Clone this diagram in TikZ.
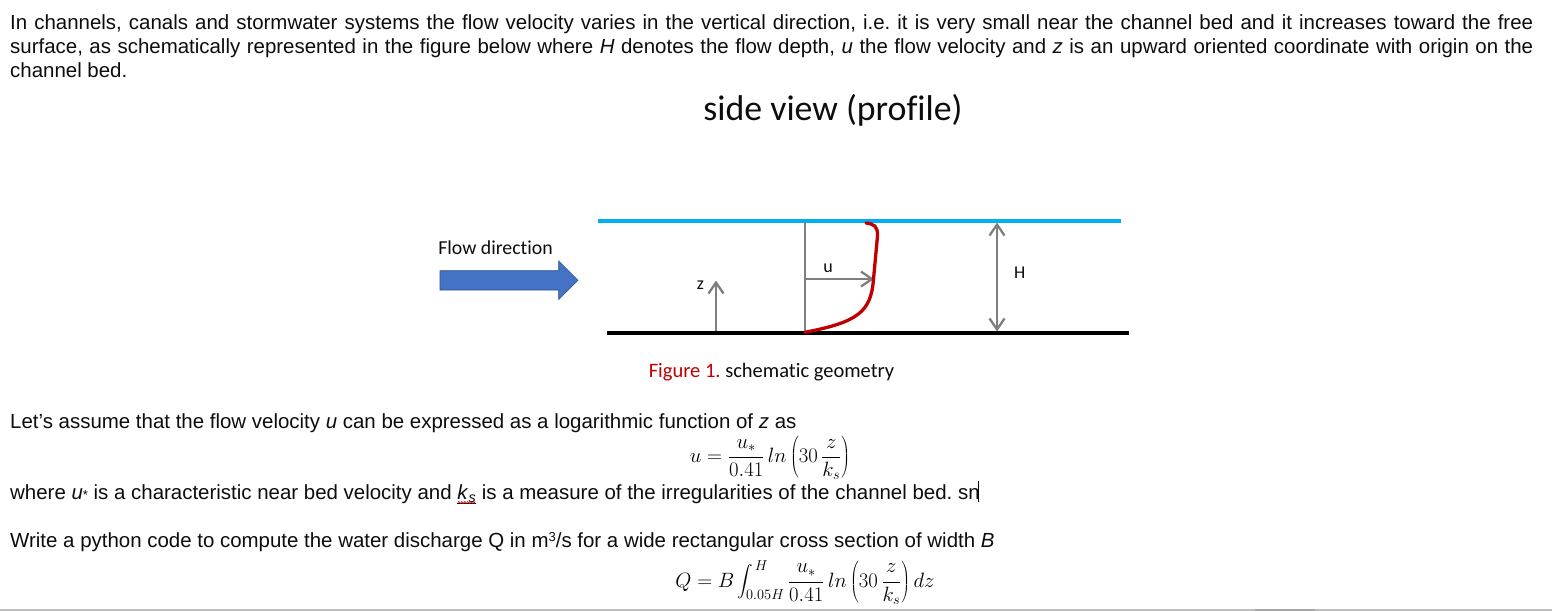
\documentclass[tikz,border=0pt]{standalone}
\usepackage{fontspec}
\setmainfont{Liberation Sans}
\newfontfamily\calfont[Ligatures=NoCommon]{Carlito}
\usetikzlibrary{arrows.meta,decorations.pathmorphing}
\definecolor{water}{RGB}{0,176,240}
\definecolor{bedred}{RGB}{192,0,0}
\definecolor{arrowgray}{RGB}{127,127,127}
\definecolor{flowblue}{RGB}{68,114,196}
\definecolor{flowedge}{RGB}{47,82,143}
\definecolor{capred}{RGB}{192,0,0}
\tikzset{
  x=1pt,y=-1pt,
  para/.style={anchor=base west,inner sep=0pt,font=\fontsize{20.45}{24}\selectfont\frenchspacing,text=black!95},
  callab/.style={inner sep=0pt,anchor=base,font=\calfont\fontsize{19.8}{22}\selectfont\frenchspacing,text=black!95},
  caplab/.style={callab,font=\calfont\fontsize{20.5}{22}\selectfont\frenchspacing},
  smalllab/.style={inner sep=0pt,anchor=base,font=\calfont\fontsize{18}{20}\selectfont,text=black!95},
  eqn/.style={inner sep=0pt,anchor=base,font=\fontsize{22}{26}\selectfont},
  gline/.style={draw=arrowgray,line width=2.3pt},
  gtip/.tip={Straight Barb[length=11pt,width=15pt,line width=2.3pt]},
  garrow/.style={gline,-gtip},
  garrows/.style={gline,gtip-gtip},
}
\newcommand{\bigint}{\mathop{\vcenter{\hbox{\scalebox{1.55}{$\displaystyle\int$}}}}\nolimits}
\begin{document}
\begin{tikzpicture}
\useasboundingbox (0,0) rectangle (1552,611);
\fill[white] (0,0) rectangle (1552,611);
% paragraph text
\node[para] (l1) at (10,29) {\hbox to 1523pt{In channels, canals and stormwater systems the flow velocity varies in the vertical direction, i.e. it is very small near the channel bed and it increases toward the free}};
\node[para] (l2) at (10,53) {\hbox to 1523pt{surface, as schematically represented in the figure below where \textit{H} denotes the flow depth, \textit{u} the flow velocity and \textit{z} is an upward oriented coordinate with origin on the}};
\node[para] (l3) at (10,77) {channel bed.};
\node[inner sep=0pt,anchor=base,font=\calfont\fontsize{35.8}{40}\selectfont,text=black!95] (title) at (833,120) {side view (profile)};
% channel
\coordinate (wl) at (598,221); \coordinate (wr) at (1121,221);
\coordinate (bl) at (607,332.8); \coordinate (br) at (1129,332.8);
\draw[water,line width=4pt] (wl) -- (wr);
\draw[black,line width=4.4pt] (bl) -- (br);
% flow arrow
\draw[flowedge,fill=flowblue,line width=.6pt] (440,270.7) -- (558.7,270.7) -- (558.7,261) -- (578,280.3) -- (558.7,299.5) -- (558.7,290) -- (440,290) -- cycle;
\node[callab] (fd) at (495.5,254) {Flow direction};
% z arrow
\coordinate (z0) at (716,331); \coordinate (z1) at (716,280.5);
\draw[garrow] (z0) -- (z1);
\node[smalllab] (zl) at (700.5,289) {z};
% velocity
\coordinate (v0) at (804.7,332); \coordinate (v1) at (804.7,222);
\coordinate (u0) at (804.7,279); \coordinate (u1) at (874,279);
\draw[gline] (v0) -- (v1);
\draw[garrow] (u0) -- (u1);
\node[smalllab] (ul) at (828,272.3) {u};
\coordinate (p0) at (866,223); \coordinate (p1) at (877.5,236); \coordinate (p2) at (873.5,279); \coordinate (p3) at (805,332.3);
\draw[bedred,line width=3.3pt,line cap=round] (p0) .. controls (874,224) and (877.8,226) .. (p1)
  -- (p2) .. controls (871,312) and (858,322) .. (p3);
% H
\coordinate (h0) at (997,222.5); \coordinate (h1) at (997,331.5);
\draw[garrows] (h0) -- (h1);
\node[smalllab] (hl) at (1019.7,278.7) {H};
% caption
\node[caplab] (cap) at (771.5,377) {\textcolor{capred}{Figure 1.} schematic geometry};
% lower text
\node[para] (l4) at (10,428) {Let’s assume that the flow velocity \textit{u} can be expressed as a logarithmic function of \textit{z} as};
\node[eqn] (e1) at (770,462.5) {$\displaystyle u=\frac{u_*}{0.41}\,ln\left(30\,\frac{z}{k_s}\right)$};
\node[para] (l5) at (10,499) {where \textit{u}{\fontsize{13}{13}\selectfont*} is a characteristic near bed velocity and \underline{\textit{k}\textsubscript{\textit{s}}} is a measure of the irregularities of the channel bed. sn};
\coordinate (c0) at (978,481); \coordinate (c1) at (978,502);
\draw[black,line width=.9pt] (c0) -- (c1);
\coordinate (w0) at (458,502.5); \coordinate (w1) at (475,502.5);
\draw[bedred!80!red,line width=.7pt,decorate,decoration={zigzag,segment length=3pt,amplitude=.9pt}] (w0) -- (w1);
\node[para] (l6) at (10,547) {Write a python code to compute the water discharge Q in m{\fontsize{13}{13}\selectfont\raisebox{5.5pt}{3}}/s for a wide rectangular cross section of width \textit{B}};
\node[eqn] (e2) at (805,587) {$\displaystyle Q=B\bigint_{\mkern-9mu 0.05H}^{\mkern2mu H}\frac{u_*}{0.41}\,ln\left(30\,\frac{z}{k_s}\right)dz$};
\coordinate (b0) at (0,610); \coordinate (b1) at (1552,610);
\draw[black!25,line width=1.2pt] (b0) -- (b1);
\coordinate (b2) at (1255,610); \coordinate (b3) at (1315,610);
\draw[black!35,line width=1.6pt] (b2) -- (b3);
\end{tikzpicture}
\end{document}
